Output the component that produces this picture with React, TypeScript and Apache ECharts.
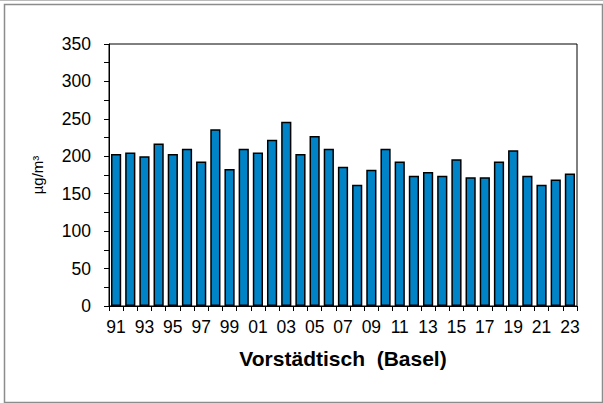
import React, { useEffect, useRef } from "react";
import * as echarts from "echarts";

const years = [
  "91", "92", "93", "94", "95", "96", "97", "98", "99", "00", "01", "02", "03", "04", "05", "06", "07",
  "08", "09", "10", "11", "12", "13", "14", "15", "16", "17", "18", "19", "20", "21", "22", "23",
];
const values = [
  203, 205, 200, 217, 203, 210, 193, 236, 183, 210, 205, 222, 246, 203, 227, 210, 186,
  162, 182, 210, 193, 174, 179, 174, 196, 172, 172, 193, 208, 174, 162, 169, 177,
];
const yTicks = [0, 50, 100, 150, 200, 250, 300, 350];
const title = "Vorstädtisch  (Basel)";
const unit = "µg/m³";

const FONT = "'Liberation Sans', Arial, sans-serif";

export default function App() {
  const ref = useRef<HTMLDivElement>(null);
  useEffect(() => {
    document.body.style.margin = "0";
    const chart = echarts.init(ref.current!, null, { renderer: "svg" });
    chart.setOption({
      animation: false,
      backgroundColor: "#ffffff",
      grid: {
        left: 109,
        right: 26,
        top: 44,
        bottom: 97,
        show: true,
        borderColor: "#000",
        borderWidth: 1,
        backgroundColor: "transparent",
      },
      xAxis: {
        type: "category",
        data: years,
        boundaryGap: true,
        axisLine: { show: true, lineStyle: { color: "#000", width: 1 } },
        axisTick: { show: true, interval: 0, length: 5, lineStyle: { color: "#000" } },
        axisLabel: {
          interval: 1,
          margin: 12,
          color: "#000",
          fontSize: 17.5,
          fontFamily: FONT,
        },
        splitLine: { show: false },
      },
      yAxis: {
        type: "value",
        min: yTicks[0],
        max: yTicks[yTicks.length - 1],
        interval: 50,
        axisLine: { show: true, lineStyle: { color: "#000", width: 1 } },
        axisTick: { show: true, length: 5, lineStyle: { color: "#000" } },
        minorTick: { show: true, splitNumber: 2, length: 5, lineStyle: { color: "#000" } },
        axisLabel: {
          margin: 18,
          color: "#000",
          fontSize: 17.5,
          fontFamily: FONT,
        },
        splitLine: { show: false },
      },
      series: [
        {
          type: "bar",
          data: values,
          barCategoryGap: "28%",
          itemStyle: { color: "#0084c7", borderColor: "#000", borderWidth: 1.5 },
        },
      ],
      graphic: [
        {
          type: "rect",
          shape: { x: 4.5, y: 4.5, width: 598, height: 398 },
          style: { fill: "none", stroke: "#8c8c8c", lineWidth: 1.5 },
          silent: true,
        },
        {
          type: "line",
          shape: { x1: 0, y1: 0.5, x2: 603, y2: 0.5 },
          style: { stroke: "#bbbbbb", lineWidth: 1 },
          silent: true,
        },
        {
          type: "text",
          x: 37,
          y: 175,
          rotation: Math.PI / 2,
          style: {
            text: unit,
            fontSize: 15,
            fontFamily: FONT,
            fill: "#000",
            textAlign: "center",
            textVerticalAlign: "middle",
          },
        },
        {
          type: "text",
          x: 343,
          y: 358,
          style: {
            text: title,
            fontSize: 21,
            fontWeight: "bold",
            fontFamily: FONT,
            fill: "#000",
            textAlign: "center",
            textVerticalAlign: "middle",
          },
        },
      ],
    });
    return () => chart.dispose();
  }, []);
  return <div ref={ref} style={{ width: 603, height: 403 }} />;
}
